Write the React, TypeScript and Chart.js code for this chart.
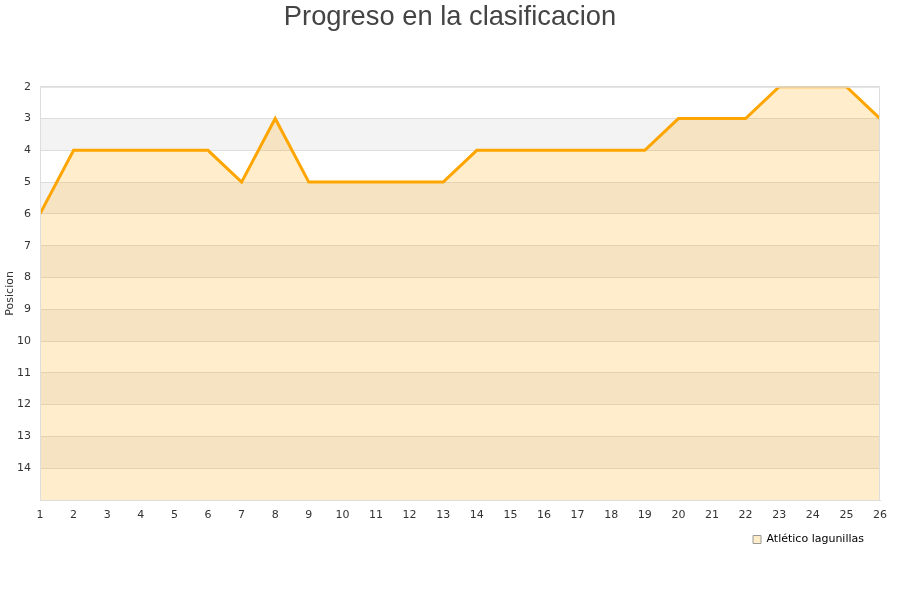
import React, { useEffect, useRef } from "react";
import { Chart, registerables } from "chart.js";

Chart.register(...registerables);

const jornadas: string[] = [
  "1", "2", "3", "4", "5", "6", "7", "8", "9", "10", "11", "12", "13",
  "14", "15", "16", "17", "18", "19", "20", "21", "22", "23", "24", "25", "26",
];
const posiciones: number[] = [
  6, 4, 4, 4, 4, 4, 5, 3, 5, 5, 5, 5, 5, 4, 4, 4, 4, 4, 4, 3, 3, 3, 2, 2, 2, 3,
];
const teamName = "Atlético lagunillas";
const titleText = "Progreso en la clasificacion";
const yTitle = "Posicion";
const yMin = 2;
const yMax = 15;
const bandStarts: number[] = [3, 5, 7, 9, 11, 13];

const bandsPlugin = {
  id: "bands",
  afterLayout(chart: any) {
    if (chart.legend) {
      chart.legend.left -= 10;
      chart.legend.right -= 10;
    }
    if (chart.titleBlock) {
      chart.titleBlock.left += 10;
      chart.titleBlock.right += 10;
      chart.titleBlock.top += 1;
      chart.titleBlock.bottom += 1;
    }
  },
  beforeDraw(chart: any) {
    const { ctx, chartArea, scales } = chart;
    const y = scales.y;
    ctx.save();
    ctx.fillStyle = "#f3f3f3";
    bandStarts.forEach((s) => {
      const y1 = y.getPixelForValue(s);
      const y2 = y.getPixelForValue(s + 1);
      ctx.fillRect(chartArea.left, Math.min(y1, y2), chartArea.right - chartArea.left, Math.abs(y2 - y1));
    });
    ctx.restore();
  },
  afterDraw(chart: any) {
    const { ctx, chartArea } = chart;
    ctx.save();
    ctx.strokeStyle = "#dddddd";
    ctx.lineWidth = 1;
    ctx.beginPath();
    ctx.moveTo(chartArea.left + 0.5, chartArea.bottom);
    ctx.lineTo(chartArea.left + 0.5, chartArea.top + 0.5);
    ctx.lineTo(chartArea.right - 0.5, chartArea.top + 0.5);
    ctx.lineTo(chartArea.right - 0.5, chartArea.bottom);
    ctx.stroke();
    ctx.restore();
  },
};

export default function App() {
  const ref = useRef<HTMLCanvasElement | null>(null);
  useEffect(() => {
    if (!ref.current) return;
    const chart = new Chart(ref.current, {
      type: "line",
      data: {
        labels: jornadas,
        datasets: [
          {
            label: teamName,
            data: posiciones,
            borderColor: "#ffa500",
            backgroundColor: "rgba(255,165,0,0.2)",
            borderWidth: 3,
            pointRadius: 0,
            tension: 0,
            clip: 0,
            fill: { value: yMax },
          },
        ],
      },
      options: {
        animation: false,
        responsive: false,
        maintainAspectRatio: false,
        layout: { padding: { top: 0, right: 20, bottom: 45, left: 0 } },
        plugins: {
          title: {
            display: true,
            text: titleText,
            color: "#444444",
            font: { family: "'Liberation Sans', Arial, sans-serif", size: 27.3, weight: "normal" },
            padding: { top: 0, bottom: 54 },
          },
          legend: {
            display: true,
            position: "bottom",
            align: "end",
            labels: {
              color: "#000000",
              font: { family: "'DejaVu Sans', sans-serif", size: 11 },
              boxWidth: 8,
              boxHeight: 8,
              padding: 6,
              generateLabels: () => [
                {
                  text: teamName,
                  fillStyle: "#ffecc8",
                  strokeStyle: "#999999",
                  lineWidth: 1,
                  hidden: false,
                  datasetIndex: 0,
                  fontColor: "#000000",
                },
              ],
            },
          },
          tooltip: { enabled: false },
        },
        scales: {
          x: {
            offset: false,
            grid: { display: false, drawTicks: false },
            border: { display: true, color: "#dddddd" },
            ticks: {
              color: "#333333",
              font: { family: "'DejaVu Sans', sans-serif", size: 11 },
              padding: 9,
              maxRotation: 0,
              autoSkip: false,
            },
            afterFit: (s: any) => {
              s.height = 28;
            },
          },
          y: {
            reverse: true,
            min: yMin,
            max: yMax,
            grid: { color: "#dddddd", drawTicks: false },
            border: { display: false },
            title: {
              display: true,
              text: yTitle,
              color: "#333333",
              font: { family: "'DejaVu Sans', sans-serif", size: 11 },
              padding: { top: 4, bottom: 4 },
            },
            ticks: {
              stepSize: 1,
              color: "#333333",
              font: { family: "'DejaVu Sans', sans-serif", size: 11 },
              padding: 9,
              callback: (v: any) => (Number(v) >= yMax ? "" : String(v)),
            },
            afterFit: (s: any) => {
              s.width = 40;
            },
          },
        },
      },
      plugins: [bandsPlugin],
    });
    return () => chart.destroy();
  }, []);
  return (
    <div style={{ position: "fixed", left: 0, top: 0, width: 900, height: 600, background: "#ffffff" }}>
      <canvas ref={ref} width={900} height={600} style={{ width: 900, height: 600 }} />
    </div>
  );
}
